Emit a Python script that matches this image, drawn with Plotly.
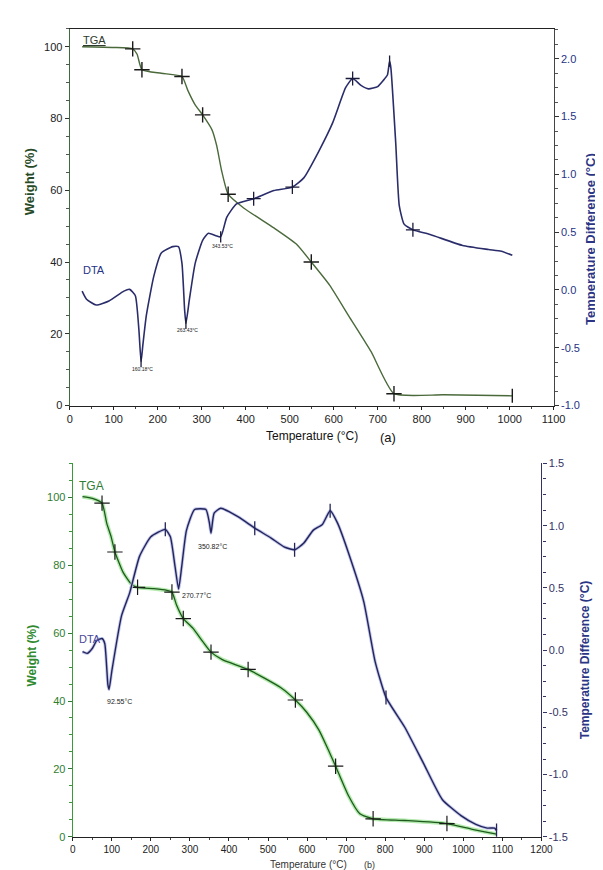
import plotly.graph_objects as go

W, H = 603, 870

# ---------------- Panel (a) data ----------------
tga_a_T = [28, 100, 143, 153, 164, 208, 255, 268, 285, 302, 323, 334, 345, 360, 396, 464, 515, 549, 591, 634, 685, 737, 850, 1006]
tga_a_W = [100.0, 99.8, 99.4, 97.9, 93.6, 92.6, 91.7, 87.9, 83.8, 81.0, 76.9, 72.4, 65.5, 58.9, 55.0, 49.5, 45.0, 40.0, 33.5, 25.0, 15.0, 3.3, 3.0, 2.7]
tga_a_mark_T = [143, 164, 255, 302, 360, 549, 737]
tga_a_mark_W = [99.4, 93.6, 91.7, 81.0, 58.9, 40.0, 3.3]
tga_a_end_T = [1006]
tga_a_end_W = [2.7]

dta_a_T = [28, 38, 60, 89, 123, 136, 149, 157, 162, 166, 174, 191, 208, 234, 247, 255, 261, 264, 272, 285, 302, 315, 332, 343, 357, 379, 418, 464, 506, 532, 566, 598, 627, 643, 662, 679, 700, 712, 722, 727, 730, 741, 749, 760, 780, 819, 893, 952, 981, 1006]
dta_a_D = [-0.01, -0.08, -0.13, -0.095, -0.01, 0.005, -0.05, -0.34, -0.62, -0.48, -0.22, 0.12, 0.32, 0.375, 0.375, 0.23, -0.17, -0.29, -0.08, 0.23, 0.43, 0.49, 0.47, 0.46, 0.63, 0.745, 0.79, 0.86, 0.89, 0.97, 1.2, 1.45, 1.75, 1.83, 1.77, 1.74, 1.76, 1.81, 1.86, 1.98, 1.92, 1.27, 0.73, 0.57, 0.52, 0.48, 0.385, 0.35, 0.335, 0.30]
dta_a_mark_T = [418, 506, 643, 780]
dta_a_mark_D = [0.79, 0.89, 1.83, 0.52]
dta_a_tick_T = [162, 264, 343, 727]
dta_a_tick_D = [-0.62, -0.29, 0.46, 1.98]
peaks_a_T = [166, 267, 348]
peaks_a_W = [10.2, 21.1, 44.5]
peaks_a_txt = ["160.18°C", "263.43°C", "343.53°C"]

# ---------------- Panel (b) data ----------------
tga_b_T = [25, 50, 75, 87, 98, 108, 129, 150, 166, 208, 241, 254, 266, 283, 308, 333, 354, 383, 449, 533, 570, 599, 630, 654, 673, 706, 735, 769, 850, 958, 1023, 1075, 1085]
tga_b_W = [100.2, 99.7, 98.3, 92.4, 88.5, 83.9, 77.9, 74.5, 73.5, 73.1, 72.6, 72.1, 68.2, 64.3, 61.4, 57.5, 54.4, 52.2, 49.3, 43.9, 40.3, 36.7, 31.5, 25.7, 20.8, 12.1, 6.8, 5.3, 4.8, 3.9, 2.2, 1.0, 0.8]
tga_b_mark_T = [75, 108, 166, 254, 283, 354, 449, 570, 673, 769, 958]
tga_b_mark_W = [98.3, 83.9, 73.5, 72.1, 64.3, 54.4, 49.3, 40.3, 20.8, 5.3, 3.9]

dta_b_T = [25, 37, 50, 62, 75, 82, 90, 93, 100, 125, 146, 171, 200, 237, 250, 262, 271, 279, 291, 312, 341, 350, 354, 362, 379, 424, 466, 508, 541, 568, 591, 616, 639, 659, 678, 706, 745, 774, 802, 850, 898, 946, 994, 1032, 1061, 1080, 1085]
dta_b_D = [-0.013, -0.026, 0.013, 0.079, 0.093, 0.053, -0.278, -0.317, -0.17, 0.277, 0.462, 0.753, 0.91, 0.97, 0.91, 0.67, 0.49, 0.67, 0.96, 1.13, 1.13, 1.02, 0.94, 1.10, 1.14, 1.07, 0.98, 0.90, 0.83, 0.806, 0.858, 0.964, 1.01, 1.12, 1.02, 0.78, 0.39, -0.09, -0.38, -0.62, -0.91, -1.2, -1.33, -1.40, -1.43, -1.43, -1.45]
dta_b_mark_T = [237, 466, 568, 659, 802, 1085]
dta_b_mark_D = [0.97, 0.98, 0.806, 1.12, -0.38, -1.45]
peaks_b_T = [121, 275, 358]
peaks_b_W = [40.0, 71.1, 85.6]
peaks_b_txt = ["92.55°C", "270.77°C", "350.82°C"]

# tick labels
xt_a = [0, 100, 200, 300, 400, 500, 600, 700, 800, 900, 1000, 1100]
xt_b = [0, 100, 200, 300, 400, 500, 600, 700, 800, 900, 1000, 1100, 1200]
yl_ticks = [0, 20, 40, 60, 80, 100]
yr_a = [-1.0, -0.5, 0.0, 0.5, 1.0, 1.5, 2.0]
yr_b = [-1.5, -1.0, -0.5, 0.0, 0.5, 1.0, 1.5]


def px(x):
    return x / W


def py(y):
    return 1 - y / H


FONT = "Liberation Sans, Arial, sans-serif"
GREEN_A = "#4b6a3b"
NAVY = "#2a2d6a"
GREEN_B = "#2f7d2f"
NAVY_B = "#263285"

fig = go.Figure()

# ---- panel a ----
fig.add_trace(go.Scatter(x=tga_a_T, y=tga_a_W, mode="lines", xaxis="x", yaxis="y",
                         line=dict(color=GREEN_A, width=1.4, shape="spline", smoothing=0.5), showlegend=False))
fig.add_trace(go.Scatter(x=tga_a_mark_T, y=tga_a_mark_W, mode="markers", xaxis="x", yaxis="y",
                         marker=dict(symbol="cross-thin", size=11, line=dict(color="#1a1a1a", width=1.4)), showlegend=False))
fig.add_trace(go.Scatter(x=tga_a_end_T, y=tga_a_end_W, mode="markers", xaxis="x", yaxis="y",
                         marker=dict(symbol="line-ns", size=10, line=dict(color="#1a1a1a", width=1.4)), showlegend=False))
fig.add_trace(go.Scatter(x=dta_a_T, y=dta_a_D, mode="lines", xaxis="x", yaxis="y2",
                         line=dict(color=NAVY, width=1.6, shape="spline", smoothing=0.5), showlegend=False))
fig.add_trace(go.Scatter(x=dta_a_mark_T, y=dta_a_mark_D, mode="markers", xaxis="x", yaxis="y2",
                         marker=dict(symbol="cross-thin", size=10, line=dict(color="#1a1a3a", width=1.3)), showlegend=False))
fig.add_trace(go.Scatter(x=dta_a_tick_T, y=dta_a_tick_D, mode="markers", xaxis="x", yaxis="y2",
                         marker=dict(symbol="line-ns", size=8, line=dict(color="#1a1a3a", width=1.3)), showlegend=False))

# ---- panel b ----
fig.add_trace(go.Scatter(x=tga_b_T, y=tga_b_W, mode="lines", xaxis="x2", yaxis="y3",
                         line=dict(color="#b5eaae", width=4, shape="spline", smoothing=0.5), showlegend=False))
fig.add_trace(go.Scatter(x=tga_b_T, y=tga_b_W, mode="lines", xaxis="x2", yaxis="y3",
                         line=dict(color="#1e5a1e", width=1.3, shape="spline", smoothing=0.5), showlegend=False))
fig.add_trace(go.Scatter(x=tga_b_mark_T, y=tga_b_mark_W, mode="markers", xaxis="x2", yaxis="y3",
                         marker=dict(symbol="cross-thin", size=11, line=dict(color="#1a1a1a", width=1.2)), showlegend=False))
fig.add_trace(go.Scatter(x=dta_b_T, y=dta_b_D, mode="lines", xaxis="x2", yaxis="y4",
                         line=dict(color="#c4c8ec", width=3.2, shape="spline", smoothing=0.5), showlegend=False))
fig.add_trace(go.Scatter(x=dta_b_T, y=dta_b_D, mode="lines", xaxis="x2", yaxis="y4",
                         line=dict(color="#23245a", width=1.4, shape="spline", smoothing=0.5), showlegend=False))
fig.add_trace(go.Scatter(x=dta_b_mark_T, y=dta_b_mark_D, mode="markers", xaxis="x2", yaxis="y4",
                         marker=dict(symbol="line-ns", size=10, line=dict(color="#23245a", width=1.3)), showlegend=False))

tickfont_dark = dict(family=FONT, size=11, color="#222222")


def xax(domain, rng, anchor, vals, size):
    return dict(domain=domain, range=rng, anchor=anchor, tickmode="array", tickvals=vals,
                ticktext=[str(v) for v in vals], ticks="outside", ticklen=3, tickwidth=1,
                tickcolor="#222", showline=True, linecolor="#222", linewidth=1.2,
                showgrid=False, zeroline=False, tickfont=dict(family=FONT, size=size, color="#222"),
                minor=dict(dtick=50, ticks="outside", ticklen=2, tickcolor="#444", showgrid=False))


fig.update_layout(
    width=W, height=H, margin=dict(l=0, r=0, t=0, b=0),
    paper_bgcolor="white", plot_bgcolor="white",
    font=dict(family=FONT),
    xaxis=dict(**xax([px(60.3), px(556.5)], [0, 1100], "y", xt_a, 11), mirror=True),
    yaxis=dict(domain=[py(397), py(15)], range=[0, 105], anchor="x", tickmode="array",
               tickvals=yl_ticks, ticktext=[str(v) for v in yl_ticks], ticks="outside", ticklen=4,
               tickcolor="#333", showline=True, linecolor="#3d6b3d", linewidth=1.3, showgrid=False,
               zeroline=False, tickfont=tickfont_dark,
               minor=dict(dtick=5, ticks="outside", ticklen=3, tickcolor="#555", showgrid=False)),
    yaxis2=dict(overlaying="y", side="right", anchor="x", range=[-1.0, 2.26], tickmode="array",
                tickvals=yr_a, ticktext=["%.1f" % v for v in yr_a], ticks="outside", ticklen=4,
                tickcolor="#333", showline=True, linecolor="#444", linewidth=1.3, showgrid=False,
                zeroline=False, tickfont=dict(family=FONT, size=11, color=NAVY_B),
                minor=dict(dtick=0.125, tick0=0, ticks="outside", ticklen=3, tickcolor="#555", showgrid=False)),
    xaxis2=xax([px(63.3), px(544)], [0, 1200], "y3", xt_b, 10),
    yaxis3=dict(domain=[py(834.3), py(455.7)], range=[0, 110], anchor="x2", tickmode="array",
                tickvals=yl_ticks, ticktext=[str(v) for v in yl_ticks], ticks="outside", ticklen=4,
                tickcolor="#2e7d32", showline=True, linecolor="#3a9a3a", linewidth=1.3, showgrid=False,
                zeroline=False, tickfont=dict(family=FONT, size=11, color=GREEN_B),
                minor=dict(dtick=5, ticks="outside", ticklen=3, tickcolor="#3a9a3a", showgrid=False)),
    yaxis4=dict(overlaying="y3", side="right", anchor="x2", range=[-1.5, 1.5], tickmode="array",
                tickvals=yr_b, ticktext=["%.1f" % v for v in yr_b], ticks="outside", ticklen=4,
                tickcolor="#333366", showline=True, linecolor="#333366", linewidth=1.3, showgrid=False,
                zeroline=False, tickfont=dict(family=FONT, size=11, color="#333366"),
                minor=dict(dtick=0.125, tick0=0, ticks="outside", ticklen=3, tickcolor="#333366", showgrid=False)),
)

ann = []
# peak labels
for t, w, s in zip(peaks_a_T, peaks_a_W, peaks_a_txt):
    ann.append(dict(x=t, y=w, xref="x", yref="y", text=s, showarrow=False,
                    xanchor="center", yanchor="middle",
                    font=dict(family=FONT, size=5, color="#222")))
for i, (t, w, s) in enumerate(zip(peaks_b_T, peaks_b_W, peaks_b_txt)):
    ann.append(dict(x=t, y=w, xref="x2", yref="y3", text=s, showarrow=False,
                    xanchor="left" if i == 1 else "center", yanchor="middle",
                    font=dict(family=FONT, size=7, color="#222")))
# series labels
ann += [
    dict(x=25, y=101.8, xref="x", yref="y", text="<u>TGA</u>", showarrow=False, xanchor="left",
         yanchor="middle", font=dict(family=FONT, size=11, color="#2e3a2e")),
    dict(x=25, y=37.8, xref="x", yref="y", text="DTA", showarrow=False, xanchor="left",
         yanchor="middle", font=dict(family=FONT, size=11, color=NAVY_B)),
    dict(x=10, y=103.2, xref="x2", yref="y3", text="TGA", showarrow=False, xanchor="left",
         yanchor="middle", font=dict(family=FONT, size=12, color="#2e7d32")),
    dict(x=12, y=58.3, xref="x2", yref="y3", text="DTA", showarrow=False, xanchor="left",
         yanchor="middle", font=dict(family=FONT, size=11, color="#4a4a9a")),
]
# axis titles
def title(x, y, text, size, color, angle=0):
    return dict(x=px(x), y=py(y), xref="paper", yref="paper", text=text, showarrow=False,
                xanchor="center", yanchor="middle", textangle=angle,
                font=dict(family=FONT, size=size, color=color))


ann += [
    title(309, 428, "Temperature (°C)", 12, "#111"),
    title(387, 429, "(a)", 13, "#111"),
    title(19, 170, "<b>Weight (%)</b>", 13, "#274a27", -90),
    title(595, 228, "<b>Temperature Difference (°C)</b>", 13, "#2a3585", -90),
    title(305, 862, "Temperature (°C)", 10, "#333"),
    title(368, 863, "(b)", 9, "#333"),
    title(22, 650, "<b>Weight (%)</b>", 12, "#2f8a2f", -90),
    title(589, 655, "<b>Temperature Difference (°C)</b>", 12, "#2a3585", -90),
]
fig.update_layout(annotations=ann)

fig.write_html("out.html")
